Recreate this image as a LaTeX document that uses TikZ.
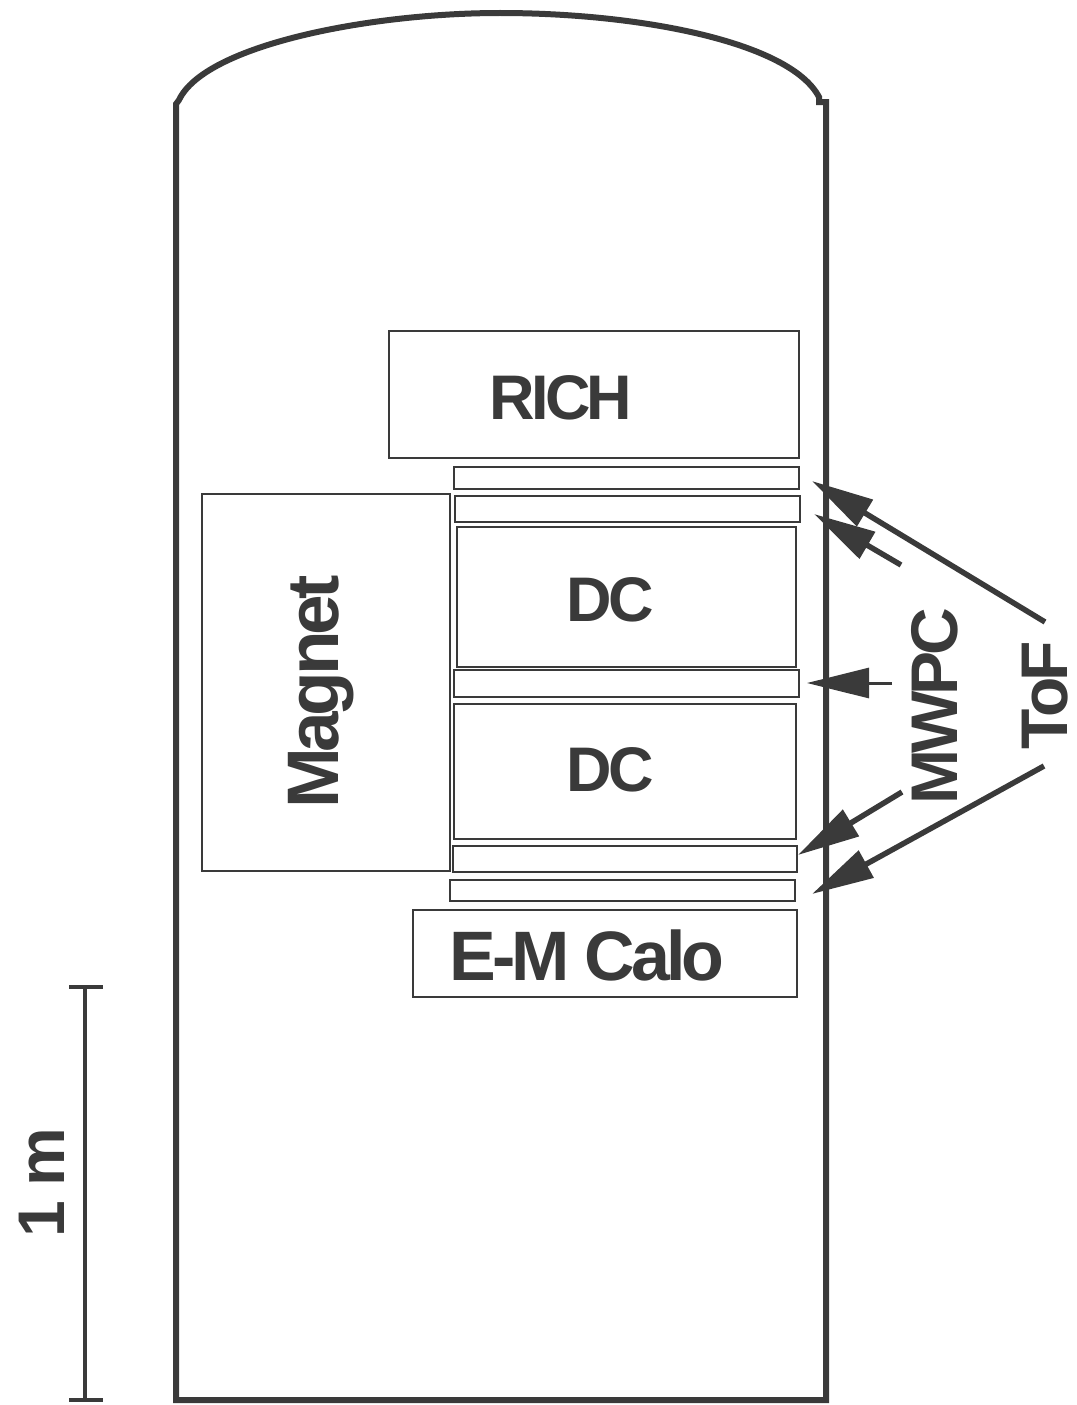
\documentclass[tikz,border=0pt]{standalone}
\usepackage{fontspec}
\usepackage{xcolor}
\usetikzlibrary{arrows.meta}
\newfontfamily\detfont[LetterSpace=-6]{Liberation Sans}
\definecolor{ink}{RGB}{58,58,58}
\tikzset{
  detbox/.style={draw=ink,line width=1.3pt,inner sep=0pt},
  detlabel/.style={text=ink,inner sep=0pt,font=\fontsize{#1}{70}\selectfont\detfont\bfseries},
  detlabel/.default=66,
  longarrow/.style={-{Triangle[length=62pt,width=30pt]},line width=5.5pt,color=ink},
}
\begin{document}
\begin{tikzpicture}[x=1pt,y=-1pt]
  \useasboundingbox (0,0) rectangle (1076,1405);
  % hull
  \draw[line width=6pt,color=ink,line join=miter]
    (176,1400) -- (176,104) -- (179,100)
    .. controls (205,45) and (370,13) .. (500,13)
    .. controls (640,13) and (790,42) .. (819,97) -- (819,102) -- (826,102) -- (826,1400) -- cycle;
  % detector boxes
  \node[detbox,minimum width=410pt,minimum height=127pt] (rich) at (594,394.5) {};
  \node[detbox,minimum width=345pt,minimum height=22pt] (tofa) at (626.5,478) {};
  \node[detbox,minimum width=345pt,minimum height=26pt] (mwpca) at (627.5,509) {};
  \node[detbox,minimum width=339pt,minimum height=140pt] (dca) at (626.5,597) {};
  \node[detbox,minimum width=345pt,minimum height=27pt] (mwpcb) at (626.5,683.5) {};
  \node[detbox,minimum width=342pt,minimum height=135pt] (dcb) at (625,771.5) {};
  \node[detbox,minimum width=344pt,minimum height=26pt] (mwpcc) at (625,859) {};
  \node[detbox,minimum width=345pt,minimum height=21pt] (tofb) at (622.5,890.5) {};
  \node[detbox,minimum width=384pt,minimum height=87pt] (calo) at (605,953.5) {};
  \node[detbox,minimum width=248pt,minimum height=377pt] (magnet) at (326,682.5) {};
  % labels
  \node[detlabel=63] (richlabel) at (561,398) {RICH};
  \node[detlabel=63] (dcalabel) at (610,600) {DC};
  \node[detlabel=63] (dcblabel) at (610,770) {DC};
  \node[detlabel=70] (calolabel) at (587,955) {E-M Calo};
  \node[detlabel=73,rotate=90] (magnetlabel) at (321,692) {Magnet};
  \node[detlabel,rotate=90] (mwpclabel) at (935,706) {MWPC};
  \node[detlabel,rotate=90] (toflabel) at (1045,695) {ToF};
  \node[detlabel,rotate=90] (scalelabel) at (42,1183) {1 m};
  % arrow ends
  \coordinate (tofatail) at (1045,622);
  \coordinate (tofatip) at (812,481);
  \coordinate (mwpcatail) at (901,565);
  \coordinate (mwpcatip) at (814,514);
  \coordinate (mwpcbtail) at (892,683);
  \coordinate (mwpcbtip) at (807,683);
  \coordinate (mwpcctail) at (902,792);
  \coordinate (mwpcctip) at (798,855);
  \coordinate (tofbtail) at (1044,766);
  \coordinate (tofbtip) at (812,894);
  \draw[longarrow] (tofatail) -- (tofatip);
  \draw[longarrow] (mwpcatail) -- (mwpcatip);
  \draw[longarrow,line width=3pt] (mwpcbtail) -- (mwpcbtip);
  \draw[longarrow] (mwpcctail) -- (mwpcctip);
  \draw[longarrow] (tofbtail) -- (tofbtip);
  % scale bar
  \coordinate (scaletop) at (85,987);
  \coordinate (scalebot) at (85,1400);
  \draw[line width=3.5pt,color=ink] (scaletop) -- (scalebot);
  \foreach \y in {987,1400} {
    \draw[line width=3.5pt,color=ink] (69,\y) -- (103,\y);
  }
\end{tikzpicture}
\end{document}
